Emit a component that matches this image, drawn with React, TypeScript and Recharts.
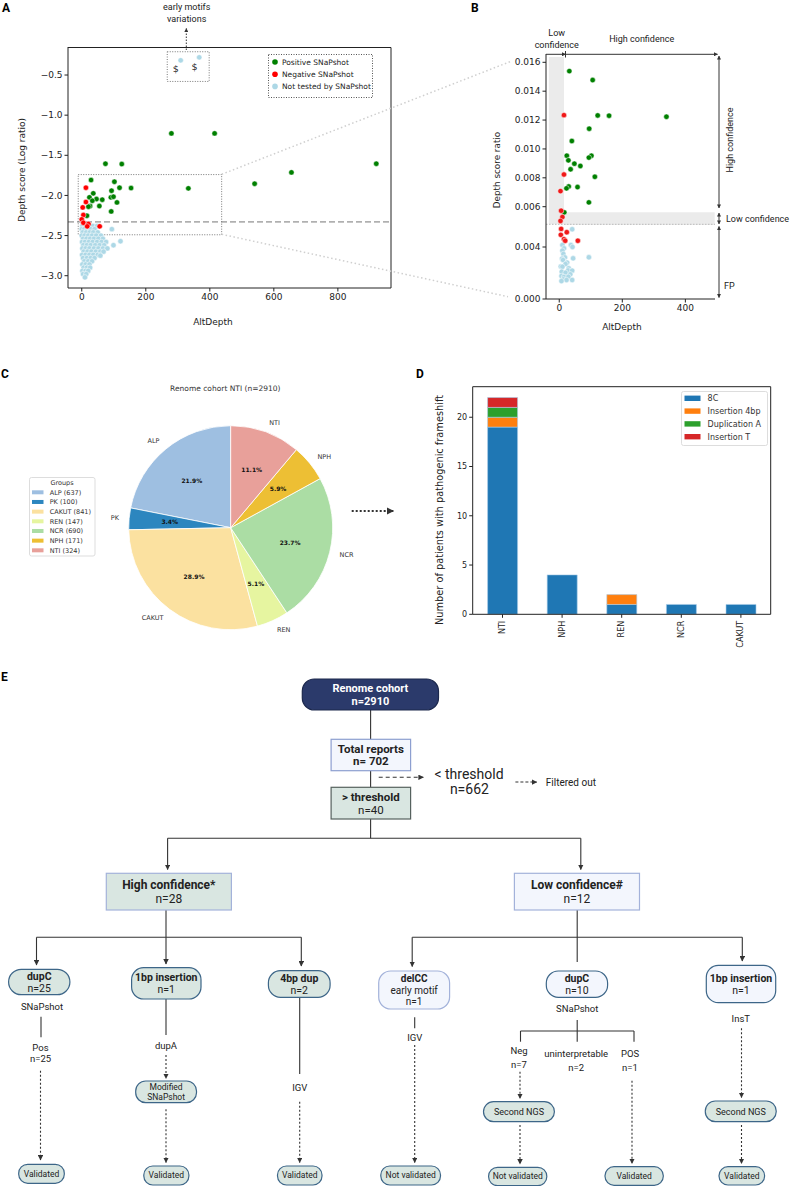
import React from "react";
import {
  ScatterChart,
  Scatter,
  XAxis,
  YAxis,
  ReferenceLine,
  ReferenceArea,
  Legend,
  PieChart,
  Pie,
  Cell,
  BarChart,
  Bar,
} from "recharts";

// Multi-panel figure: A/B scatter (depth score), C pie (cohort groups),
// D stacked bars (frameshift types), E validation flowchart.

const MPL = "'DejaVu Sans', Verdana, sans-serif";
const BIO = "Roboto, 'Noto Sans', Arial, sans-serif";
const INK = "#222";

// ---------- A : depth score (log ratio) vs AltDepth ----------
const A_POSITIVE: [number, number][] = [
  [280, -1.227], [415, -1.227], [920, -1.605], [655, -1.713], [540, -1.854], [333, -1.912],
  [74, -1.605], [125, -1.609], [154, -1.908], [118, -1.904], [102, -1.829], [93, -1.941],
  [91, -2.024], [99, -2.016], [110, -2.087], [92, -2.199], [29, -1.808], [36, -1.974],
  [24, -2.024], [46, -2.045], [64, -2.053], [55, -2.132], [26, -2.132], [21, -2.14],
  [33, -2.066], [16, -2.253],
];
const A_NEGATIVE: [number, number][] = [
  [13, -1.904], [13, -2.082], [3, -2.149], [5, -2.244], [0, -2.298], [5, -2.34],
  [21, -2.356], [17, -2.385], [56, -2.385],
];
const A_UNTESTED: [number, number][] = [
  [2, -2.38], [12, -2.38], [22, -2.38], [35, -2.38], [48, -2.38],
  [0, -2.42], [8, -2.42], [18, -2.42], [28, -2.42], [40, -2.42], [94, -2.42],
  [3, -2.46], [14, -2.46], [25, -2.46], [36, -2.46], [50, -2.46],
  [0, -2.5], [9, -2.5], [20, -2.5], [32, -2.5], [45, -2.5], [60, -2.5],
  [4, -2.54], [15, -2.54], [26, -2.54], [38, -2.54], [52, -2.54], [66, -2.54],
  [121, -2.57],
  [1, -2.58], [10, -2.58], [22, -2.58], [34, -2.58], [48, -2.58], [62, -2.58], [76, -2.58],
  [5, -2.62], [16, -2.62], [28, -2.62], [42, -2.62], [56, -2.62], [70, -2.62], [99, -2.62],
  [2, -2.66], [12, -2.66], [24, -2.66], [38, -2.66], [52, -2.66], [66, -2.66], [80, -2.66],
  [6, -2.7], [18, -2.7], [30, -2.7], [44, -2.7], [58, -2.7], [68, -2.7],
  [1, -2.74], [12, -2.74], [24, -2.74], [36, -2.74], [50, -2.74], [58, -2.75],
  [4, -2.78], [16, -2.78], [28, -2.78], [40, -2.78],
  [8, -2.82], [20, -2.82], [32, -2.82],
  [2, -2.86], [12, -2.86], [24, -2.86],
  [6, -2.9], [16, -2.9], [26, -2.9],
  [2, -2.94], [12, -2.94], [20, -2.94],
  [4, -2.98], [14, -2.98],
  [10, -3.02],
];
const A_EARLY_MOTIF: [number, number][] = [[309, -0.317], [367, -0.28]];
const A_DOLLAR: [number, number][] = [[294, -0.416], [352, -0.396]];
const A_THRESHOLD = -2.33;
const A_X_DOMAIN: [number, number] = [-43, 966];
const A_Y_DOMAIN: [number, number] = [-3.153, -0.151];
const A_X_TICKS = [0, 200, 400, 600, 800];
const A_Y_TICKS = [-3, -2.5, -2, -1.5, -1, -0.5];
const A_LEGEND = [
  { label: "Positive SNaPshot", color: "#008000" },
  { label: "Negative SNaPshot", color: "#ff0000" },
  { label: "Not tested by SNaPshot", color: "#add8e6" },
];

// ---------- B : zoom on depth score ratio ----------
const B_POSITIVE: [number, number][] = [
  [32, 0.01539], [106, 0.01477], [122, 0.01232], [158, 0.0123], [340, 0.01223],
  [95, 0.0114], [40, 0.01055], [24, 0.00953], [102, 0.00953], [94, 0.0094],
  [29, 0.00921], [48, 0.00898], [67, 0.00882], [36, 0.00859], [113, 0.00807],
  [30, 0.0074], [23, 0.00727], [58, 0.00736], [94, 0.0063], [16, 0.00558],
];
const B_NEGATIVE: [number, number][] = [
  [15, 0.01234], [15, 0.00823], [4, 0.00708], [6, 0.0057], [10, 0.00523], [4, 0.00494],
  [6, 0.00455], [24, 0.00445], [5, 0.00437], [15, 0.00424], [19, 0.00419], [59, 0.00419],
];
const B_UNTESTED: [number, number][] = [
  [41, 0.00454], [10, 0.00406], [37, 0.00406], [42, 0.004], [15, 0.0039], [10, 0.00372],
  [13, 0.00346], [18, 0.0032], [94, 0.00321], [44, 0.00313], [9, 0.0031], [12, 0.003],
  [25, 0.0028], [20, 0.00269], [5, 0.0025], [10, 0.00248], [30, 0.00236], [28, 0.0022],
  [41, 0.00218], [8, 0.0021], [20, 0.00202], [35, 0.0019], [7, 0.00177], [15, 0.0017],
  [29, 0.00171], [13, 0.00151], [41, 0.00146], [23, 0.00146], [7, 0.00138],
];
// the y axis of B is broken: knots give where each value sits on the drawn axis
const B_KNOT_VALUE = [0, 0.004, 0.00469, 0.006, 0.016];
const B_KNOT_AXIS = [0, 52, 74.7, 92.3, 236.7];
const B_Y_TICKS = [0, 0.004, 0.00469, 0.006, 0.008, 0.01, 0.012, 0.014, 0.016];
const B_THRESHOLD = 0.00469;
const B_LOW_CONF_TOP = 0.00558;
const B_X_DOMAIN: [number, number] = [-42, 494];
const B_Y_DOMAIN: [number, number] = [0, 245];
const B_X_TICKS = [0, 200, 400];

function bAxis(v: number) {
  let i = 0;
  while (i < B_KNOT_VALUE.length - 2 && v > B_KNOT_VALUE[i + 1]) i++;
  const v0 = B_KNOT_VALUE[i], v1 = B_KNOT_VALUE[i + 1];
  const a0 = B_KNOT_AXIS[i], a1 = B_KNOT_AXIS[i + 1];
  return a0 + ((v - v0) / (v1 - v0)) * (a1 - a0);
}

// ---------- C : cohort groups ----------
const C_GROUPS = ["ALP", "PK", "CAKUT", "REN", "NCR", "NPH", "NTI"];
const C_COUNTS = [637, 100, 841, 147, 690, 171, 324];
const C_COLORS = ["#9ebfe1", "#2c86bf", "#fbe1a0", "#e6f5a0", "#abdda4", "#edbf34", "#e8a09a"];

// ---------- D : pathogenic frameshift per group ----------
const D_GROUPS = ["NTI", "NPH", "REN", "NCR", "CAKUT"];
const D_8C = [19, 4, 1, 1, 1];
const D_INS_4BP = [1, 0, 1, 0, 0];
const D_DUP_A = [1, 0, 0, 0, 0];
const D_INS_T = [1, 0, 0, 0, 0];
const D_SERIES = [
  { key: "c8", label: "8C", color: "#1f77b4" },
  { key: "ins4", label: "Insertion 4bp", color: "#ff7f0e" },
  { key: "dupA", label: "Duplication A", color: "#2ca02c" },
  { key: "insT", label: "Insertion T", color: "#d62728" },
];
const D_Y_MAX = 23.1;
const D_Y_TICKS = [0, 5, 10, 15, 20];

const toXY = (pts: [number, number][]) => pts.map(([x, y]) => ({ x, y }));
const toXB = (pts: [number, number][]) => pts.map(([x, y]) => ({ x, y: bAxis(y) }));

const dot = (fill: string, r = 2.7) => (p: any) => (
  <circle cx={p.cx} cy={p.cy} r={r} fill={fill} stroke="#fff" strokeWidth={0.5} />
);

const AX = {
  tick: { fill: INK, fontSize: 9, fontFamily: MPL },
  tickLine: { stroke: INK },
  axisLine: { stroke: INK },
  tickSize: 3.5,
};

const minus = (v: number, d: number) => v.toFixed(d).replace("-", "\u2212");

function ALegend() {
  return (
    <svg width={105} height={44}>
      <rect x={0.5} y={0.5} width={104} height={43} fill="#fff" stroke="#555" strokeDasharray="1 1.5" />
      {A_LEGEND.map((e, i) => (
        <g key={e.label}>
          <circle cx={7} cy={8 + i * 12.2} r={2.8} fill={e.color} />
          <text x={14} y={8 + i * 12.2} dy="0.35em" fontSize={7.5} fontFamily={MPL} fill={INK}>
            {e.label}
          </text>
        </g>
      ))}
    </svg>
  );
}

function PanelA() {
  return (
    <ScatterChart width={420} height={330} margin={{ top: 47, right: 29, bottom: 12, left: 8 }}>
      <XAxis type="number" dataKey="x" domain={A_X_DOMAIN} allowDataOverflow ticks={A_X_TICKS} height={30} {...AX} />
      <YAxis
        type="number"
        dataKey="y"
        domain={A_Y_DOMAIN}
        allowDataOverflow
        ticks={A_Y_TICKS}
        width={60}
        tickFormatter={(v) => minus(v, 1)}
        {...AX}
      />
      <ReferenceLine y={A_THRESHOLD} stroke="#777" strokeDasharray="6 3" strokeWidth={1} />
      <ReferenceArea x1={-11} x2={437} y1={-2.49} y2={-1.74} fill="none" stroke="#555" strokeOpacity={1} strokeDasharray="1 1.5" strokeWidth={0.8} />
      <ReferenceArea x1={267} x2={398} y1={-0.58} y2={-0.21} fill="none" stroke="#555" strokeOpacity={1} strokeDasharray="1 1.5" strokeWidth={0.8} />
      <Scatter data={toXY(A_UNTESTED)} shape={dot("#add8e6")} isAnimationActive={false} />
      <Scatter data={toXY(A_POSITIVE)} shape={dot("#008000")} isAnimationActive={false} />
      <Scatter data={toXY(A_NEGATIVE)} shape={dot("#ff0000")} isAnimationActive={false} />
      <Scatter data={toXY(A_EARLY_MOTIF)} shape={dot("#add8e6")} isAnimationActive={false} />
      <Scatter
        data={toXY(A_DOLLAR)}
        isAnimationActive={false}
        shape={(p: any) => (
          <text x={p.cx} y={p.cy} dy="0.35em" textAnchor="middle" fontSize={9.5} fontFamily={MPL} fill={INK}>
            $
          </text>
        )}
      />
      <Legend
        layout="vertical"
        align="center"
        verticalAlign="middle"
        content={() => <ALegend />}
        wrapperStyle={{ position: "absolute", left: 268, top: 54, width: 105, height: 44 }}
      />
    </ScatterChart>
  );
}

function BTick(p: any) {
  const v = B_Y_TICKS.reduce((best, t) =>
    Math.abs(bAxis(t) - p.payload.value) < Math.abs(bAxis(best) - p.payload.value) ? t : best,
  );
  const isThr = v === B_THRESHOLD;
  return (
    <text
      x={p.x}
      y={p.y}
      dy="0.35em"
      textAnchor="end"
      fontSize={isThr ? 8.5 : 9}
      fontWeight={isThr ? "bold" : "normal"}
      fontFamily={MPL}
      fill={isThr ? "#d43a3a" : INK}
    >
      {isThr ? "0.00469" : v.toFixed(3)}
    </text>
  );
}

function PanelB() {
  return (
    <ScatterChart width={370} height={330} margin={{ top: 54, right: 75, bottom: 3, left: 76 }}>
      <XAxis type="number" dataKey="x" domain={B_X_DOMAIN} allowDataOverflow ticks={B_X_TICKS} height={28} {...AX} />
      <YAxis
        type="number"
        dataKey="y"
        domain={B_Y_DOMAIN}
        allowDataOverflow
        ticks={B_Y_TICKS.map(bAxis)}
        width={50}
        {...AX}
        tick={<BTick />}
      />
      <ReferenceArea x1={-33} x2={15} y1={bAxis(B_THRESHOLD)} y2={242} fill="#ebebeb" fillOpacity={1} stroke="none" />
      <ReferenceArea x1={15} x2={493} y1={bAxis(B_THRESHOLD) - 0.7} y2={bAxis(B_LOW_CONF_TOP)} fill="#ebebeb" fillOpacity={1} stroke="none" />
      <ReferenceLine y={bAxis(B_THRESHOLD)} stroke="#bbb" strokeDasharray="1.5 1.5" />
      <Scatter data={toXB(B_UNTESTED)} shape={dot("#add8e6")} isAnimationActive={false} />
      <Scatter data={toXB(B_POSITIVE)} shape={dot("#008000")} isAnimationActive={false} />
      <Scatter data={toXB(B_NEGATIVE)} shape={dot("#f01818")} isAnimationActive={false} />
    </ScatterChart>
  );
}

const C_DATA = C_GROUPS.map((name, i) => ({ name, value: C_COUNTS[i] }));

function renderPieLabel(p: any) {
  const rad = Math.PI / 180;
  const ca = Math.cos(-p.midAngle * rad);
  const sa = Math.sin(-p.midAngle * rad);
  const ox = p.cx + p.outerRadius * 1.1 * ca;
  const oy = p.cy + p.outerRadius * 1.1 * sa;
  const ix = p.cx + p.outerRadius * 0.6 * ca;
  const iy = p.cy + p.outerRadius * 0.6 * sa;
  return (
    <g>
      <text x={ox} y={oy} dy="0.35em" textAnchor={ca >= 0 ? "start" : "end"} fontSize={6.5} fontFamily={MPL} fill="#333">
        {p.name}
      </text>
      <text x={ix} y={iy} dy="0.35em" textAnchor="middle" fontSize={6} fontWeight="bold" fontFamily={MPL} fill="#111">
        {(p.percent * 100).toFixed(1)}%
      </text>
    </g>
  );
}

function CLegend() {
  return (
    <svg width={67} height={80}>
      <rect x={0.5} y={0.5} width={65.5} height={78.5} rx={2} fill="#fff" stroke="#ddd" />
      <text x={33} y={6} dy="0.35em" textAnchor="middle" fontSize={6.5} fontFamily={MPL} fill="#333">
        Groups
      </text>
      {C_GROUPS.map((g, i) => (
        <g key={g}>
          <rect x={3} y={13.3 + i * 9.67} width={11.5} height={4} fill={C_COLORS[i]} />
          <text x={20.7} y={15.3 + i * 9.67} dy="0.35em" fontSize={6.5} fontFamily={MPL} fill="#333">
            {`${g} (${C_COUNTS[i]})`}
          </text>
        </g>
      ))}
    </svg>
  );
}

function PanelC() {
  return (
    <PieChart width={420} height={330}>
      <Pie
        data={C_DATA}
        dataKey="value"
        nameKey="name"
        cx={225.7}
        cy={192.7}
        outerRadius={102}
        startAngle={90}
        endAngle={450}
        stroke="#fff"
        strokeWidth={0.8}
        label={renderPieLabel}
        labelLine={false}
        isAnimationActive={false}
      >
        {C_DATA.map((d, i) => (
          <Cell key={d.name} fill={C_COLORS[i]} />
        ))}
      </Pie>
      <Legend
        layout="vertical"
        align="center"
        verticalAlign="middle"
        content={() => <CLegend />}
        wrapperStyle={{ position: "absolute", left: 29, top: 147, width: 67, height: 80 }}
      />
    </PieChart>
  );
}

const D_DATA = D_GROUPS.map((g, i) => ({
  group: g,
  c8: D_8C[i],
  ins4: D_INS_4BP[i],
  dupA: D_DUP_A[i],
  insT: D_INS_T[i],
}));

function DLegend() {
  return (
    <svg width={87} height={55}>
      <rect x={0.5} y={0.5} width={86} height={54} rx={2} fill="#fff" stroke="#ddd" />
      {D_SERIES.map((s, i) => (
        <g key={s.key}>
          <rect x={3.5} y={7.3 + i * 12.8 - 2.7} width={16} height={5.4} fill={s.color} />
          <text x={26.6} y={7.3 + i * 12.8} dy="0.35em" fontSize={8} fontFamily={MPL} fill="#333">
            {s.label}
          </text>
        </g>
      ))}
    </svg>
  );
}

function DXTick(p: any) {
  return (
    <g transform={`translate(${p.x}, ${p.y + 1})`}>
      <text x={0} y={0} transform="rotate(-90)" textAnchor="end" dominantBaseline="central" fontSize={8} fontFamily={MPL} fill={INK}>
        {p.payload.value}
      </text>
    </g>
  );
}

function PanelD() {
  return (
    <BarChart
      width={370}
      height={330}
      data={D_DATA}
      margin={{ top: 56.7, right: 19.3, bottom: 10.7, left: 22.7 }}
      barCategoryGap="25%"
    >
      <XAxis dataKey="group" height={35} interval={0} {...AX} tick={<DXTick />} />
      <YAxis
        type="number"
        domain={[0, D_Y_MAX]}
        allowDataOverflow
        ticks={D_Y_TICKS}
        width={30}
        {...AX}
        tick={{ fill: INK, fontSize: 8, fontFamily: MPL }}
      />
      {D_SERIES.map((s) => (
        <Bar key={s.key} dataKey={s.key} stackId="a" fill={s.color} stroke="#a9cde9" strokeWidth={0.6} isAnimationActive={false} />
      ))}
      <Legend
        layout="vertical"
        align="center"
        verticalAlign="middle"
        content={() => <DLegend />}
        wrapperStyle={{ position: "absolute", left: 260.7, top: 61, width: 87, height: 55 }}
      />
    </BarChart>
  );
}

// ---------- E : flowchart ----------
const NAVY = "#2b3a6b";
const PALE = "#f3f6fd";
const PALE_EDGE = "#a3b2da";
const SAGE = "#d9e6e1";
const DEEP_EDGE = "#3d6688";

type Line = [string, boolean?];
type FlowNode = { x: number; y: number; w: number; h: number; rx: number; fill: string; stroke: string; color?: string; size: number; lines: Line[] };

const E_NODES: FlowNode[] = [
  { x: 302.3, y: 679, w: 136.2, h: 31, rx: 12, fill: NAVY, stroke: "#1c284d", color: "#fff", size: 11, lines: [["Renome cohort", true], ["n=2910", true]] },
  { x: 331.1, y: 739.3, w: 79.5, h: 31.4, rx: 0, fill: PALE, stroke: "#8d9fd0", size: 11.5, lines: [["Total reports", true], ["n= 702", true]] },
  { x: 331.1, y: 787.3, w: 79.5, h: 31.7, rx: 0, fill: SAGE, stroke: "#56625e", size: 11.5, lines: [["> threshold", true], ["n=40"]] },
  { x: 106.3, y: 873.3, w: 125.1, h: 36.7, rx: 0, fill: SAGE, stroke: PALE_EDGE, size: 12, lines: [["High confidence*", true], ["n=28"]] },
  { x: 514.4, y: 873.3, w: 125.1, h: 36.7, rx: 0, fill: PALE, stroke: PALE_EDGE, size: 12, lines: [["Low confidence#", true], ["n=12"]] },
  { x: 8.6, y: 969.3, w: 61.3, h: 25.4, rx: 12.7, fill: SAGE, stroke: DEEP_EDGE, size: 10.5, lines: [["dupC", true], ["n=25"]] },
  { x: 131.6, y: 967.7, w: 69.4, h: 31.3, rx: 12, fill: SAGE, stroke: DEEP_EDGE, size: 10.5, lines: [["1bp insertion", true], ["n=1"]] },
  { x: 268.4, y: 970.7, w: 61.7, h: 26.6, rx: 12, fill: SAGE, stroke: DEEP_EDGE, size: 10.5, lines: [["4bp dup", true], ["n=2"]] },
  { x: 378.7, y: 971, w: 70.9, h: 38, rx: 12, fill: PALE, stroke: PALE_EDGE, size: 10, lines: [["delCC", true], ["early motif"], ["n=1"]] },
  { x: 546.3, y: 971, w: 61.3, h: 26.3, rx: 12, fill: PALE, stroke: DEEP_EDGE, size: 10.5, lines: [["dupC", true], ["n=10"]] },
  { x: 706.3, y: 965.3, w: 69.4, h: 37.4, rx: 12, fill: PALE, stroke: DEEP_EDGE, size: 10.5, lines: [["1bp insertion", true], ["n=1"]] },
  { x: 135.7, y: 1081, w: 60.8, h: 21.7, rx: 10, fill: SAGE, stroke: DEEP_EDGE, size: 8.5, lines: [["Modified"], ["SNaPshot"]] },
  { x: 483.5, y: 1101.7, w: 70.9, h: 20, rx: 10, fill: SAGE, stroke: DEEP_EDGE, size: 9, lines: [["Second NGS"]] },
  { x: 705.3, y: 1101, w: 70.9, h: 20.7, rx: 10, fill: SAGE, stroke: DEEP_EDGE, size: 9, lines: [["Second NGS"]] },
  { x: 18.7, y: 1164.3, w: 45.6, h: 19, rx: 9, fill: SAGE, stroke: DEEP_EDGE, size: 8.5, lines: [["Validated"]] },
  { x: 143.8, y: 1166, w: 45.1, h: 19, rx: 9, fill: SAGE, stroke: DEEP_EDGE, size: 8.5, lines: [["Validated"]] },
  { x: 277.5, y: 1166, w: 44.5, h: 19, rx: 9, fill: SAGE, stroke: DEEP_EDGE, size: 8.5, lines: [["Validated"]] },
  { x: 380.8, y: 1166, w: 59.7, h: 19, rx: 9, fill: SAGE, stroke: DEEP_EDGE, size: 8.5, lines: [["Not validated"]] },
  { x: 488.6, y: 1167.3, w: 58.2, h: 18.4, rx: 9, fill: SAGE, stroke: DEEP_EDGE, size: 8.5, lines: [["Not validated"]] },
  { x: 605, y: 1166.7, w: 58.3, h: 18.6, rx: 9, fill: SAGE, stroke: DEEP_EDGE, size: 8.5, lines: [["Validated"]] },
  { x: 719, y: 1166.7, w: 45.6, h: 18.3, rx: 9, fill: SAGE, stroke: DEEP_EDGE, size: 8.5, lines: [["Validated"]] },
];

// [x, y, text, size]
const E_TEXTS: [number, number, string, number][] = [
  [469, 774, "< threshold", 14],
  [469.4, 789, "n=662", 14],
  [42, 1006.7, "SNaPshot", 9.5],
  [40.5, 1047.2, "Pos", 9.5],
  [40.5, 1058.8, "n=25", 9.5],
  [166, 1046, "dupA", 9.5],
  [299.7, 1087.3, "IGV", 9.5],
  [414.7, 1037.3, "IGV", 9.5],
  [577.2, 1009, "SNaPshot", 9.5],
  [519, 1051, "Neg", 9.5],
  [519, 1065, "n=7", 9.5],
  [576.2, 1054, "uninterpretable", 9.5],
  [576.2, 1067.3, "n=2", 9.5],
  [630, 1054, "POS", 9.5],
  [630, 1067.3, "n=1", 9.5],
  [740.8, 1018.3, "InsT", 9.5],
];

// [x1, y1, x2, y2, arrow]
const E_SOLID: [number, number, number, number, boolean][] = [
  [370.6, 710, 370.6, 739.3, false],
  [370.6, 770.7, 370.6, 787.3, false],
  [370.6, 819, 370.6, 838.3, false],
  [167.6, 838.3, 580.8, 838.3, false],
  [167.6, 838.3, 167.6, 869.5, true],
  [580.8, 838.3, 580.8, 869.5, true],
  [166, 910, 166, 937.3, false],
  [36.5, 937.3, 301.3, 937.3, false],
  [36.5, 937.3, 36.5, 965, true],
  [166, 937.3, 166, 964, true],
  [301.3, 937.3, 301.3, 966, true],
  [577.2, 910, 577.2, 962, false],
  [412.2, 937.3, 742.3, 937.3, false],
  [412.2, 937.3, 412.2, 966.5, true],
  [742.3, 937.3, 742.3, 961, true],
  [41, 1016.7, 41, 1037.3, false],
  [166, 999, 166, 1035, false],
  [299.7, 997.3, 299.7, 1074, false],
  [414.7, 1017.3, 414.7, 1028.3, false],
  [577.2, 1020, 577.2, 1031, false],
  [520.5, 1031, 634, 1031, false],
  [520.5, 1031, 520.5, 1041.7, false],
  [577.2, 1031, 577.2, 1041.7, false],
  [634, 1031, 634, 1041.7, false],
];

const E_DOTTED: [number, number, number, number][] = [
  [40.5, 1070.7, 40.5, 1160],
  [166, 1055, 166, 1078.5],
  [166, 1109.3, 166, 1162.5],
  [299.7, 1101.7, 299.7, 1162.5],
  [414.7, 1045, 414.7, 1162.5],
  [520, 1071.7, 520, 1098.5],
  [520, 1125, 520, 1164],
  [632, 1080.7, 632, 1163.5],
  [741.5, 1028.3, 741.5, 1097.5],
  [741.5, 1125, 741.5, 1163.5],
];

function FlowBox({ n }: { n: FlowNode }) {
  const lh = n.size * 1.12;
  const cy = n.y + n.h / 2;
  const y0 = cy - ((n.lines.length - 1) * lh) / 2;
  return (
    <g>
      <rect x={n.x} y={n.y} width={n.w} height={n.h} rx={n.rx} fill={n.fill} stroke={n.stroke} strokeWidth={1.2} />
      {n.lines.map(([t, bold], i) => (
        <text
          key={i}
          x={n.x + n.w / 2}
          y={y0 + i * lh}
          dy="0.35em"
          textAnchor="middle"
          fontSize={n.size}
          fontWeight={bold ? "bold" : "normal"}
          fontFamily={BIO}
          fill={n.color ?? "#222"}
        >
          {t}
        </text>
      ))}
    </g>
  );
}

function Overlay() {
  const gray = "#333";
  return (
    <svg width={790} height={1186} style={{ position: "absolute", left: 0, top: 0, pointerEvents: "none" }}>
      <defs>
        <marker id="ah" viewBox="0 0 10 10" refX="9" refY="5" markerWidth="5" markerHeight="5" orient="auto-start-reverse">
          <path d="M0,0 L10,5 L0,10 z" fill={gray} />
        </marker>
        <marker id="ahs" viewBox="0 0 10 10" refX="9" refY="5" markerWidth="4" markerHeight="4" orient="auto-start-reverse">
          <path d="M0,0 L10,5 L0,10 z" fill={gray} />
        </marker>
      </defs>

      {/* top and right spines of the boxed matplotlib axes (A and D) */}
      <polyline points="68,47.5 391,47.5 391,288" fill="none" stroke={INK} strokeWidth={1} />
      <polyline points="472.7,386.7 770.7,386.7 770.7,614.3" fill="none" stroke={INK} strokeWidth={1} />

      {/* panel letters */}
      {[
        ["A", 2, 12],
        ["B", 471, 12],
        ["C", 1, 378],
        ["D", 416, 378],
        ["E", 1, 681],
      ].map(([t, x, y]) => (
        <text key={t as string} x={x as number} y={y as number} fontSize={12} fontWeight="bold" fontFamily={BIO} fill="#000">
          {t}
        </text>
      ))}

      {/* A annotations */}
      <text x={186.7} y={7} dy="0.35em" textAnchor="middle" fontSize={9} fontFamily={BIO} fill={INK}>early motifs</text>
      <text x={186.7} y={18.5} dy="0.35em" textAnchor="middle" fontSize={9} fontFamily={BIO} fill={INK}>variations</text>
      <line x1={186.3} y1={50} x2={186.3} y2={28.5} stroke={gray} strokeDasharray="1.5 1.5" markerEnd="url(#ahs)" />
      <text x={22} y={170} dy="0.35em" textAnchor="middle" transform="rotate(-90, 22, 170)" fontSize={9} fontFamily={MPL} fill={INK}>
        Depth score (Log ratio)
      </text>
      <text x={213} y={322} dy="0.35em" textAnchor="middle" fontSize={9} fontFamily={MPL} fill={INK}>AltDepth</text>

      {/* zoom lines A -> B */}
      <line x1={221.7} y1={174.3} x2={510} y2={61.7} stroke="#cfcfcf" strokeWidth={1.5} strokeDasharray="1.5 2.5" />
      <line x1={221.7} y1={234.3} x2={508} y2={296.7} stroke="#cfcfcf" strokeWidth={1.5} strokeDasharray="1.5 2.5" />

      {/* B annotations */}
      <text x={497} y={170} dy="0.35em" textAnchor="middle" transform="rotate(-90, 497, 170)" fontSize={8.8} fontFamily={MPL} fill={INK}>
        Depth score ratio
      </text>
      <text x={622} y={327} dy="0.35em" textAnchor="middle" fontSize={9} fontFamily={MPL} fill={INK}>AltDepth</text>
      <text x={556.7} y={33.3} dy="0.35em" textAnchor="middle" fontSize={9} fontFamily={BIO} fill={INK}>Low</text>
      <text x={556.7} y={44.5} dy="0.35em" textAnchor="middle" fontSize={9} fontFamily={BIO} fill={INK}>confidence</text>
      <text x={641.7} y={39} dy="0.35em" textAnchor="middle" fontSize={9} fontFamily={BIO} fill={INK}>High confidence</text>
      <line x1={546} y1={54.3} x2={565.5} y2={54.3} stroke={gray} markerEnd="url(#ahs)" />
      <line x1={565.5} y1={51} x2={565.5} y2={57.5} stroke={gray} />
      <line x1={565.5} y1={54.3} x2={717.5} y2={54.3} stroke={gray} markerEnd="url(#ahs)" />
      <line x1={719} y1={56} x2={719} y2={208} stroke={gray} markerStart="url(#ahs)" markerEnd="url(#ahs)" />
      <line x1={719} y1={213} x2={719} y2={224} stroke={gray} markerStart="url(#ahs)" markerEnd="url(#ahs)" />
      <line x1={719} y1={226.5} x2={719} y2={297.5} stroke={gray} markerStart="url(#ahs)" markerEnd="url(#ahs)" />
      <text x={730} y={140} dy="0.35em" textAnchor="middle" transform="rotate(-90, 730, 140)" fontSize={9} fontFamily={BIO} fill={INK}>
        High confidence
      </text>
      <text x={726} y={219} dy="0.35em" fontSize={9} fontFamily={BIO} fill={INK}>Low confidence</text>
      <text x={724} y={286} dy="0.35em" fontSize={9} fontFamily={BIO} fill={INK}>FP</text>

      {/* C title + arrow */}
      <text x={225.3} y={388.3} dy="0.35em" textAnchor="middle" fontSize={7.5} fontFamily={MPL} fill="#333">
        Renome cohort NTI (n=2910)
      </text>
      <line x1={351.7} y1={511} x2={393.3} y2={511} stroke={gray} strokeWidth={1.8} strokeDasharray="2 2" markerEnd="url(#ahs)" />

      {/* D y title */}
      <text x={440} y={510} dy="0.35em" textAnchor="middle" transform="rotate(-90, 440, 510)" fontSize={9.8} fontFamily={MPL} fill={INK}>
        Number of patients with pathogenic frameshift
      </text>

      {/* E flowchart */}
      {E_SOLID.map(([x1, y1, x2, y2, arrow], i) => (
        <line key={`s${i}`} x1={x1} y1={y1} x2={x2} y2={y2} stroke={gray} strokeWidth={1.1} markerEnd={arrow ? "url(#ah)" : undefined} />
      ))}
      {E_DOTTED.map(([x1, y1, x2, y2], i) => (
        <line key={`d${i}`} x1={x1} y1={y1} x2={x2} y2={y2} stroke={gray} strokeWidth={1.1} strokeDasharray="2 2" markerEnd="url(#ah)" />
      ))}
      <line x1={378.7} y1={777.3} x2={423.3} y2={777.3} stroke={gray} strokeWidth={1.1} strokeDasharray="4 3" markerEnd="url(#ah)" />
      <line x1={515.4} y1={782} x2={536.7} y2={782} stroke={gray} strokeWidth={1.1} strokeDasharray="3 2" markerEnd="url(#ah)" />
      <text x={545.8} y={782} dy="0.35em" fontSize={10} fontFamily={BIO} fill="#222">Filtered out</text>
      {E_NODES.map((n, i) => (
        <FlowBox key={i} n={n} />
      ))}
      {E_TEXTS.map(([x, y, t, s], i) => (
        <text key={`t${i}`} x={x} y={y} dy="0.35em" textAnchor="middle" fontSize={s} fontFamily={BIO} fill="#222">
          {t}
        </text>
      ))}
    </svg>
  );
}

export default function App() {
  return (
    <div style={{ position: "absolute", left: 0, top: 0, width: 790, height: 1186, background: "#fff", overflow: "hidden" }}>
      <div style={{ position: "absolute", left: 0, top: 0 }}>
        <PanelA />
      </div>
      <div style={{ position: "absolute", left: 420, top: 0 }}>
        <PanelB />
      </div>
      <div style={{ position: "absolute", left: 0, top: 330 }}>
        <PanelC />
      </div>
      <div style={{ position: "absolute", left: 420, top: 330 }}>
        <PanelD />
      </div>
      <Overlay />
    </div>
  );
}
